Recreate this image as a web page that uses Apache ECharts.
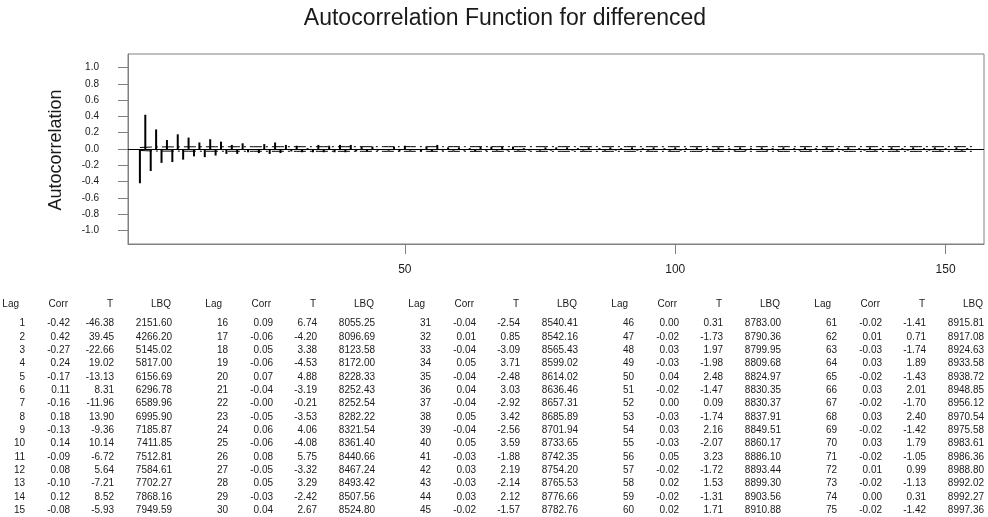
<!DOCTYPE html>
<html><head><meta charset="utf-8">
<script src="https://cdn.jsdelivr.net/npm/echarts@6/dist/echarts.min.js"></script>
<style>html,body{margin:0;padding:0;background:#fff}#c{width:988px;height:517px}</style>
</head><body><div id="c"></div>
<script>
// ---- DATA ----
const chartTitle = 'Autocorrelation Function for differenced';
const yAxisTitle = 'Autocorrelation';
// autocorrelation by lag (lag = index + 1), lags 1..155
const acfCorr = [
  -0.42, 0.42, -0.27, 0.24, -0.17, 0.11, -0.16, 0.18, -0.13, 0.14, -0.09, 0.08, -0.10, 0.12, -0.08,
  0.09, -0.06, 0.05, -0.06, 0.07, -0.04, -0.002, -0.05, 0.06, -0.06, 0.08, -0.05, 0.05, -0.03, 0.04,
  -0.04, 0.01, -0.04, 0.05, -0.04, 0.04, -0.04, 0.05, -0.04, 0.05, -0.03, 0.03, -0.03, 0.03, -0.02,
  0.00, -0.02, 0.03, -0.03, 0.04, -0.02, 0.00, -0.03, 0.03, -0.03, 0.05, -0.02, 0.02, -0.02, 0.02,
  -0.02, 0.01, -0.03, 0.03, -0.02, 0.03, -0.02, 0.03, -0.02, 0.03, -0.02, 0.01, -0.02, 0.00, -0.02,
  0.02, -0.02, 0.02, -0.01, 0.02, -0.02, 0.01, -0.02, 0.02, -0.01,
  0.01, -0.02, 0.02, -0.02, 0.01, -0.01, 0.02, -0.02, 0.01, -0.02,
  0.02, -0.01, 0.01, -0.02, 0.02, -0.02, 0.01, -0.01, 0.02, -0.02,
  0.01, -0.02, 0.02, -0.01, 0.01, -0.02, 0.02, -0.02, 0.01, -0.01,
  0.02, -0.02, 0.01, -0.02, 0.02, -0.01, 0.01, -0.02, 0.02, -0.02,
  0.01, -0.01, 0.02, -0.02, 0.01, -0.02, 0.02, -0.01, 0.01, -0.02,
  0.02, -0.02, 0.01, -0.01, 0.02, -0.02, 0.01, -0.02, 0.02, -0.01,
  0.01, -0.02, 0.02, -0.02, 0.01, -0.01, 0.02, -0.02, 0.01, -0.01
];
// table statistics for lags 1..75
const tStat = [
  -46.38, 39.45, -22.66, 19.02, -13.13, 8.31, -11.96, 13.90, -9.36, 10.14, -6.72, 5.64, -7.21, 8.52, -5.93,
  6.74, -4.20, 3.38, -4.53, 4.88, -3.19, -0.21, -3.53, 4.06, -4.08, 5.75, -3.32, 3.29, -2.42, 2.67,
  -2.54, 0.85, -3.09, 3.71, -2.48, 3.03, -2.92, 3.42, -2.56, 3.59, -1.88, 2.19, -2.14, 2.12, -1.57,
  0.31, -1.73, 1.97, -1.98, 2.48, -1.47, 0.09, -1.74, 2.16, -2.07, 3.23, -1.72, 1.53, -1.31, 1.71,
  -1.41, 0.71, -1.74, 1.89, -1.43, 2.01, -1.70, 2.40, -1.42, 1.79, -1.05, 0.99, -1.13, 0.31, -1.42
];
const lbq = [
  2151.60, 4266.20, 5145.02, 5817.00, 6156.69, 6296.78, 6589.96, 6995.90, 7185.87, 7411.85, 7512.81, 7584.61, 7702.27, 7868.16, 7949.59,
  8055.25, 8096.69, 8123.58, 8172.00, 8228.33, 8252.43, 8252.54, 8282.22, 8321.54, 8361.40, 8440.66, 8467.24, 8493.42, 8507.56, 8524.80,
  8540.41, 8542.16, 8565.43, 8599.02, 8614.02, 8636.46, 8657.31, 8685.89, 8701.94, 8733.65, 8742.35, 8754.20, 8765.53, 8776.66, 8782.76,
  8783.00, 8790.36, 8799.95, 8809.68, 8824.97, 8830.35, 8830.37, 8837.91, 8849.51, 8860.17, 8886.10, 8893.44, 8899.30, 8903.56, 8910.88,
  8915.81, 8917.08, 8924.63, 8933.58, 8938.72, 8948.85, 8956.12, 8970.54, 8975.58, 8983.61, 8986.36, 8988.80, 8992.02, 8992.27, 8997.36
];
const tableHeaders = ['Lag', 'Corr', 'T', 'LBQ'];
const yTickValues = [-1.0, -0.8, -0.6, -0.4, -0.2, 0.0, 0.2, 0.4, 0.6, 0.8, 1.0];
const xTickValues = [50, 100, 150];
const nObs = 12194; // series length implied by SE of lag 1

// ---- BUILD ----
const FONT = '"Liberation Sans", Arial, sans-serif';
const barData = acfCorr.map((r, i) => [i + 1, r]);
// Bartlett 2*SE limits
const upper = [], lower = [];
let ss = 0;
acfCorr.forEach((r, i) => {
  const se = Math.sqrt((1 + 2 * ss) / nObs);
  upper.push([i + 1, 2 * se]);
  lower.push([i + 1, -2 * se]);
  ss += r * r;
});

const graphics = [];
function txt(x, y, s, size, align, extra) {
  graphics.push(Object.assign({
    type: 'text', x: x, y: y, silent: true,
    style: { text: s, fontSize: size, fontFamily: FONT, fill: '#1a1a1a',
      align: align, textAlign: align, verticalAlign: 'middle', textVerticalAlign: 'middle' }
  }, extra || {}));
}
txt(505, 19, chartTitle, 23, 'center');
txt(56, 150, yAxisTitle, 18, 'center', { rotation: Math.PI / 2 });

const groupX = [0, 203, 406, 609, 812];
const colRight = [25, 70, 114, 172];
const headRight = [19, 68, 113, 171];
const rowsPer = 15;
groupX.forEach((gx, g) => {
  tableHeaders.forEach((h, c) => txt(gx + headRight[c], 304, h, 10, 'right'));
  for (let k = 0; k < rowsPer; k++) {
    const i = g * rowsPer + k;
    if (i >= tStat.length) break;
    const y = 323.5 + k * 13.33;
    txt(gx + colRight[0], y, String(i + 1), 10, 'right');
    txt(gx + colRight[1], y, acfCorr[i].toFixed(2), 10, 'right');
    txt(gx + colRight[2], y, tStat[i].toFixed(2), 10, 'right');
    txt(gx + colRight[3], y, lbq[i].toFixed(2), 10, 'right');
  }
});

const chart = echarts.init(document.getElementById('c'), null, { renderer: 'canvas' });
const axisGrey = '#808080';
const limitStyle = { color: '#000', width: 1, type: [12, 4, 2, 4] };
chart.setOption({
  animation: false,
  backgroundColor: '#fff',
  grid: { left: 128, top: 54, width: 856, height: 190, show: true, borderColor: axisGrey, borderWidth: 1 },
  xAxis: {
    type: 'value', min: -1.2, max: 157.1,
    axisLine: { show: true, onZero: false, lineStyle: { color: axisGrey, width: 1 } },
    axisTick: { show: true, length: 10, customValues: xTickValues, lineStyle: { color: axisGrey } },
    axisLabel: { customValues: xTickValues, margin: 20, fontSize: 12, color: '#1a1a1a', fontFamily: FONT },
    splitLine: { show: false }
  },
  yAxis: {
    type: 'value', min: -1.165, max: 1.165,
    axisLine: { show: true, onZero: false, lineStyle: { color: axisGrey, width: 1 } },
    axisTick: { show: true, length: 10, customValues: yTickValues, lineStyle: { color: axisGrey } },
    axisLabel: { customValues: yTickValues, margin: 29, fontSize: 10, color: '#1a1a1a', fontFamily: FONT,
      formatter: v => Number(v).toFixed(1) },
    splitLine: { show: false }
  },
  series: [
    {
      type: 'bar', data: barData, barWidth: 2, itemStyle: { color: '#000' }, silent: true,
      markLine: { silent: true, symbol: ['none', 'none'], label: { show: false },
        lineStyle: { color: '#000', width: 1, type: 'solid' }, data: [{ yAxis: 0 }] }
    },
    { type: 'line', data: upper, showSymbol: false, symbol: 'none', lineStyle: limitStyle, silent: true },
    { type: 'line', data: lower, showSymbol: false, symbol: 'none', lineStyle: limitStyle, silent: true }
  ],
  graphic: { elements: graphics }
});
</script>
</body></html>
